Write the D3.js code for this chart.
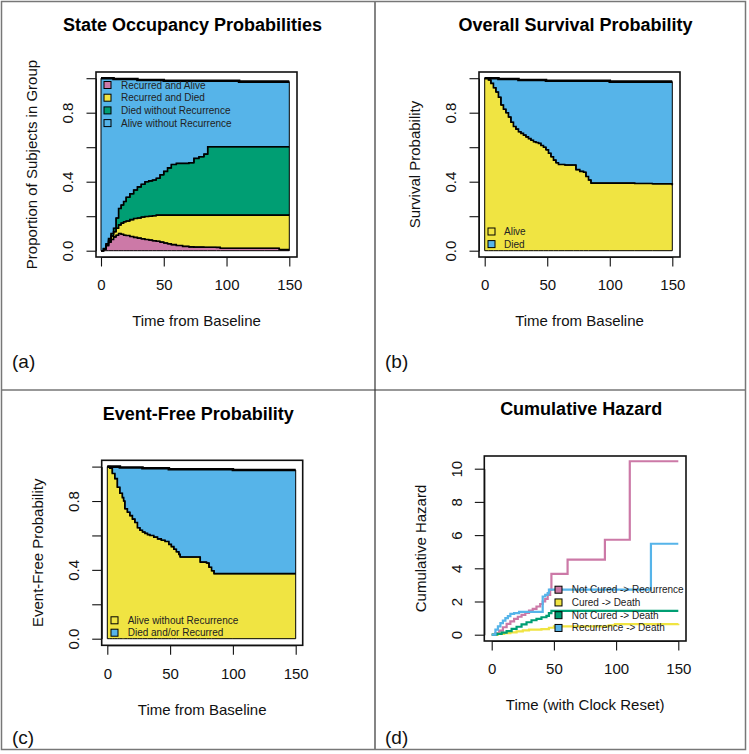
<!DOCTYPE html>
<html><head><meta charset="utf-8">
<script src="https://cdn.jsdelivr.net/npm/d3@7"></script>
<style>
body{margin:0;background:#fff}
svg{display:block}
text{font-family:"Liberation Sans",Arial,sans-serif}
</style>
</head><body>
<svg id="c" width="749" height="754"></svg>
<script>
// ---------------- DATA ----------------
const xTicks = [0, 50, 100, 150];
const probTicks = [0, 0.2, 0.4, 0.6, 0.8, 1.0];
const probTickLabels = ["0.0", "", "0.4", "", "0.8", ""];
const hazTicks = [0, 2, 4, 6, 8, 10];
const hazTickLabels = ["0", "2", "4", "6", "8", "10"];

// (a) state occupancy
const stateTime  = [0,2,4,6,8,10,12,14,16,18,20,23,26,29,32,35,38,41,44,47,50,53,56,60,65,70,74,78,82,85,92,95,110,130,142,150];
const recAlive   = [0,0.01,0.03,0.05,0.065,0.08,0.09,0.10,0.095,0.09,0.088,0.082,0.077,0.073,0.069,0.065,0.062,0.058,0.055,0.05,0.045,0.04,0.035,0.03,0.025,0.022,0.021,0.021,0.02,0.02,0.019,0.014,0.014,0.014,0.006,0.006];
const recDied    = [0,0,0,0.01,0.02,0.03,0.04,0.05,0.065,0.078,0.084,0.098,0.11,0.117,0.126,0.133,0.138,0.145,0.151,0.156,0.161,0.166,0.171,0.176,0.181,0.184,0.185,0.185,0.186,0.186,0.187,0.192,0.192,0.192,0.2,0.2];
const diedNoRec  = [0,0.002,0.01,0.01,0.015,0.02,0.06,0.095,0.105,0.117,0.138,0.15,0.165,0.18,0.19,0.202,0.205,0.207,0.214,0.234,0.254,0.274,0.294,0.3,0.3,0.304,0.329,0.339,0.354,0.397,0.397,0.397,0.397,0.397,0.397,0.397];
const aliveNoRec = [1,0.988,0.96,0.93,0.9,0.865,0.805,0.75,0.73,0.71,0.685,0.665,0.643,0.62,0.605,0.59,0.585,0.58,0.57,0.55,0.525,0.505,0.485,0.479,0.479,0.475,0.45,0.44,0.425,0.382,0.382,0.382,0.377,0.377,0.377,0.377];
const stateNames = ["Recurred and Alive", "Recurred and Died", "Died without Recurrence", "Alive without Recurrence"];

// (b) overall survival
const survTime  = [0,3,5,7,9,11,13,15,17,19,21,23,25,27,29,31,33,35,37,39,41,43,45,47,49,51,53,55,57,59,64,71,73,76,79,81,83,85,100,120,134,150];
const survAlive = [1,0.99,0.97,0.945,0.92,0.89,0.845,0.82,0.8,0.775,0.745,0.72,0.705,0.69,0.68,0.67,0.66,0.65,0.64,0.632,0.627,0.622,0.61,0.6,0.585,0.565,0.545,0.525,0.51,0.5,0.497,0.497,0.47,0.46,0.455,0.43,0.41,0.392,0.392,0.39,0.388,0.38];
const survDied  = [0,0.01,0.03,0.055,0.08,0.105,0.15,0.175,0.195,0.22,0.25,0.275,0.29,0.3,0.31,0.32,0.33,0.34,0.35,0.358,0.363,0.368,0.38,0.39,0.4,0.42,0.44,0.46,0.475,0.485,0.488,0.488,0.515,0.525,0.53,0.555,0.575,0.593,0.588,0.59,0.592,0.6];
const survNames = ["Alive", "Died"];

// (c) event-free
const efTime  = [0,2,4,6,8,10,12,13,14,16,18,20,22,24,26,28,30,32,34,37,40,43,46,49,51,53,55,57,58,72,74,79,81,83,85,100,150];
const efFree  = [1,0.99,0.96,0.93,0.88,0.845,0.82,0.8,0.755,0.735,0.715,0.695,0.675,0.645,0.63,0.62,0.612,0.605,0.6,0.59,0.58,0.572,0.565,0.548,0.535,0.52,0.505,0.49,0.475,0.475,0.445,0.44,0.415,0.395,0.378,0.378,0.378];
const efEvent = [0,0.01,0.04,0.07,0.12,0.15,0.175,0.195,0.24,0.26,0.28,0.30,0.32,0.35,0.365,0.37,0.378,0.385,0.39,0.4,0.41,0.418,0.425,0.437,0.45,0.465,0.48,0.495,0.51,0.51,0.54,0.545,0.57,0.59,0.607,0.602,0.602];
const efNames = ["Alive without Recurrence", "Died and/or Recurred"];

// (d) cumulative hazards
const hzRecTime = [0,3,6,9,12,15,18,21,24,27,30,33,36,39,41,43,45,47,48,61,91,111,150];
const hzRec     = [0,0.1,0.25,0.45,0.65,0.8,0.95,1.08,1.2,1.32,1.45,1.55,1.7,1.85,2.0,2.15,2.4,2.7,3.66,4.52,5.72,10.45,10.45];
const hzCuredTime = [0,5,10,15,20,25,30,40,46,50,94,99,150];
const hzCured     = [0,0.05,0.1,0.14,0.2,0.26,0.31,0.34,0.42,0.5,0.56,0.64,0.66];
const hzNCDeathTime = [0,4,8,12,16,20,24,28,32,36,40,44,46,48,150];
const hzNCDeath     = [0,0.05,0.12,0.22,0.35,0.48,0.62,0.75,0.87,0.95,1.05,1.13,1.3,1.43,1.43];
const hzRecDeathTime = [0,3,5,7,9,11,13,15,18,22,41,43,45,46,128,150];
const hzRecDeath     = [0,0.3,0.5,0.7,0.85,1.0,1.12,1.25,1.3,1.38,2.3,2.4,2.5,2.72,5.48,5.48];
const hzNames = ["Not Cured -> Recurrence", "Cured -> Death", "Not Cured -> Death", "Recurrence -> Death"];

const PINK = "#CC79A7", YELLOW = "#F0E442", GREEN = "#009E73", BLUE = "#56B4E9";

// ---------------- DRAW ----------------
const svg = d3.select("#c");
const FONT = '"Liberation Sans",Arial,sans-serif';

function setupPanel(cfg) {
  const g = svg.append("g");
  const x = d3.scaleLinear().domain([0, 150]).range([cfg.x0, cfg.x150]);
  const y = d3.scaleLinear().domain(cfg.yDom).range(cfg.yRange);
  return {g, x, y};
}

function finishPanel(p, cfg) {
  const {g, x, y} = p;
  // box
  g.append("rect").attr("x", cfg.l).attr("y", cfg.t)
    .attr("width", cfg.r - cfg.l).attr("height", cfg.b - cfg.t)
    .attr("fill", "none").attr("stroke", "#111").attr("stroke-width", 1.6);
  // x axis
  const xa = d3.axisBottom(x).tickValues(xTicks).tickSize(9.5).tickSizeOuter(0).tickFormat(d3.format("d"));
  const gx = g.append("g").attr("transform", `translate(0,${cfg.b})`).call(xa);
  gx.attr("font-family", FONT).attr("font-size", 15);
  gx.select(".domain").attr("stroke", "#111");
  gx.selectAll(".tick line").attr("stroke", "#111").attr("stroke-width", 1.1);
  gx.selectAll(".tick text").attr("y", 28).attr("dy", "0.35em").attr("fill", "#111");
  // y axis
  const ya = d3.axisLeft(y).tickValues(cfg.yTicks).tickSize(9.5).tickSizeOuter(0)
    .tickFormat((d, i) => cfg.yTickLabels[i]);
  const gy = g.append("g").attr("transform", `translate(${cfg.l},0)`).call(ya);
  gy.attr("font-family", FONT).attr("font-size", 15);
  gy.select(".domain").attr("stroke", "#111");
  gy.selectAll(".tick line").attr("stroke", "#111").attr("stroke-width", 1.1);
  gy.selectAll(".tick text").attr("x", null).attr("dy", "0.35em").attr("text-anchor", "middle")
    .attr("transform", "translate(-28,0) rotate(-90)").attr("fill", "#111");
  const cx = (cfg.l + cfg.r) / 2, cy = (cfg.t + cfg.b) / 2;
  // title
  g.append("text").attr("x", cx - 4).attr("y", cfg.t - 47).attr("dy", "0.35em")
    .attr("text-anchor", "middle").attr("font-size", 18).attr("font-weight", "bold")
    .attr("fill", "#000").text(cfg.title);
  // x label
  g.append("text").attr("x", cx).attr("y", cfg.b + 64).attr("dy", "0.35em")
    .attr("text-anchor", "middle").attr("font-size", 15).attr("fill", "#111").text(cfg.xLabel);
  // y label
  g.append("text").attr("transform", `translate(${cfg.l - 64},${cy}) rotate(-90)`).attr("dy", "0.35em")
    .attr("text-anchor", "middle").attr("font-size", 15).attr("fill", "#111").text(cfg.yLabel);
}

function legend(g, names, colors, bx, ty, y0, step) {
  names.forEach((n, i) => {
    const yy = y0 + i * step;
    g.append("rect").attr("x", bx).attr("y", yy - 3.5).attr("width", 7).attr("height", 7)
      .attr("fill", colors[i]).attr("stroke", "#000").attr("stroke-width", 1);
    g.append("text").attr("x", ty).attr("y", yy).attr("dy", "0.35em")
      .attr("font-size", 10).attr("fill", "#222").text(n);
  });
}

function stackedPanel(cfg, time, series, keys, colors) {
  const p = setupPanel(cfg);
  const rows = time.map((t, i) => {
    const o = {t};
    keys.forEach((k, j) => o[k] = series[j][i]);
    return o;
  });
  const stacked = d3.stack().keys(keys)(rows);
  const area = d3.area().x(d => p.x(d.data.t)).y0(d => p.y(d[0])).y1(d => p.y(d[1])).curve(d3.curveStepAfter);
  const line = d3.line().x(d => p.x(d.data.t)).y(d => p.y(d[1])).curve(d3.curveStepAfter);
  stacked.forEach((s, i) => {
    p.g.append("path").attr("d", area(s)).attr("fill", colors[i]).attr("stroke", "#000").attr("stroke-width", 1);
  });
  stacked.forEach((s, i) => {
    const top = i === stacked.length - 1;
    p.g.append("path").attr("d", line(s)).attr("fill", "none").attr("stroke", "#000")
      .attr("stroke-width", top ? 2.6 : 1.6);
  });
  finishPanel(p, cfg);
  return p;
}

// Panel (a)
const pa = stackedPanel({
  l: 96, r: 297, t: 72, b: 257, x0: 101, x150: 289.3, yDom: [0, 1], yRange: [250.7, 78.2],
  yTicks: probTicks, yTickLabels: probTickLabels,
  title: "State Occupancy Probabilities", xLabel: "Time from Baseline", yLabel: "Proportion of Subjects in Group"
}, stateTime, [recAlive, recDied, diedNoRec, aliveNoRec], stateNames, [PINK, YELLOW, GREEN, BLUE]);
legend(pa.g, stateNames, [PINK, YELLOW, GREEN, BLUE], 104, 121, 85, 12.7);

// Panel (b)
const pb = stackedPanel({
  l: 479, r: 680, t: 72, b: 257, x0: 484.7, x150: 672.3, yDom: [0, 1], yRange: [250.7, 78.2],
  yTicks: probTicks, yTickLabels: probTickLabels,
  title: "Overall Survival Probability", xLabel: "Time from Baseline", yLabel: "Survival Probability"
}, survTime, [survAlive, survDied], survNames, [YELLOW, BLUE]);
legend(pb.g, survNames, [YELLOW, BLUE], 488, 504, 231.5, 12.6);

// Panel (c)
const pc = stackedPanel({
  l: 101.7, r: 302.7, t: 460.3, b: 645.3, x0: 107.3, x150: 295.7, yDom: [0, 1], yRange: [638.7, 466.6],
  yTicks: probTicks, yTickLabels: probTickLabels,
  title: "Event-Free Probability", xLabel: "Time from Baseline", yLabel: "Event-Free Probability"
}, efTime, [efFree, efEvent], efNames, [YELLOW, BLUE]);
legend(pc.g, efNames, [YELLOW, BLUE], 111, 127.7, 620.3, 12.4);

// Panel (d)
const cfgD = {
  l: 484.3, r: 686, t: 456, b: 641, x0: 491.7, x150: 678.3, yDom: [0, 10], yRange: [634.7, 468.7],
  yTicks: hazTicks, yTickLabels: hazTickLabels,
  title: "Cumulative Hazard", xLabel: "Time (with Clock Reset)", yLabel: "Cumulative Hazard"
};
const pd = setupPanel(cfgD);
const hzSeries = [[hzRecTime, hzRec], [hzCuredTime, hzCured], [hzNCDeathTime, hzNCDeath], [hzRecDeathTime, hzRecDeath]];
const hzColors = [PINK, YELLOW, GREEN, BLUE];
const hzLine = d3.line().x(d => pd.x(d[0])).y(d => pd.y(d[1])).curve(d3.curveStepAfter);
hzSeries.forEach((s, i) => {
  const pts = s[0].map((t, j) => [t, s[1][j]]);
  pd.g.append("path").attr("d", hzLine(pts)).attr("fill", "none").attr("stroke", hzColors[i])
    .attr("stroke-width", 2.2);
});
finishPanel(pd, cfgD);
legend(pd.g, hzNames, hzColors, 555, 571.7, 589.7, 12.75);

// Panel letters
const letters = [["(a)", 12, 368], ["(b)", 385, 368], ["(c)", 12, 744], ["(d)", 385, 744]];
letters.forEach(l => svg.append("text").attr("x", l[1]).attr("y", l[2])
  .attr("font-family", '"Liberation Serif","Times New Roman",serif').attr("font-size", 19)
  .attr("fill", "#111").text(l[0]));

// Frame and dividers
svg.append("line").attr("x1", 375).attr("x2", 375).attr("y1", 1).attr("y2", 750).attr("stroke", "#333").attr("stroke-width", 1.2);
svg.append("line").attr("x1", 1).attr("x2", 746).attr("y1", 390).attr("y2", 390).attr("stroke", "#333").attr("stroke-width", 1.2);
svg.append("rect").attr("x", 1.5).attr("y", 1.5).attr("width", 744).attr("height", 748)
  .attr("fill", "none").attr("stroke", "#777").attr("stroke-width", 1.5);
</script>
</body></html>
